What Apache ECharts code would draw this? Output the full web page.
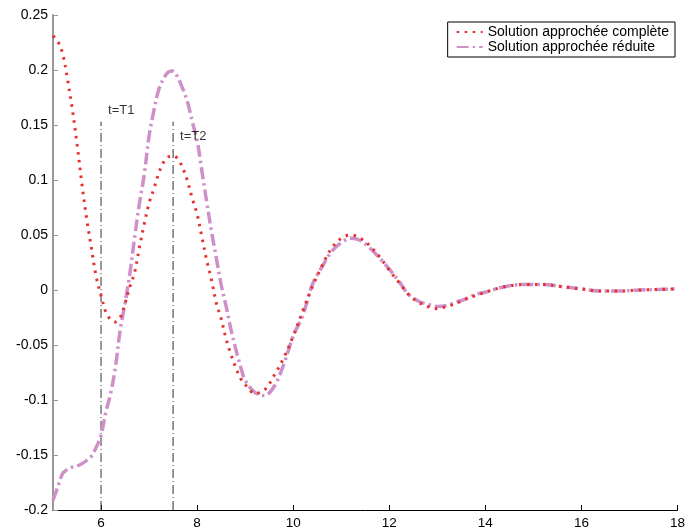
<!DOCTYPE html>
<html>
<head>
<meta charset="utf-8">
<script src="https://cdn.jsdelivr.net/npm/echarts@6/dist/echarts.min.js"></script>
<style>
html,body{margin:0;padding:0;background:#fff;}
#chart{width:688px;height:530px;}
</style>
</head>
<body>
<div id="chart"></div>
<script>
// ---- data ----
var tValues = [5.0,5.1,5.2,5.3,5.4,5.5,5.6,5.7,5.8,5.9,
  6.0,6.1,6.2,6.3,6.4,6.5,6.6,6.7,6.8,6.9,
  7.0,7.1,7.2,7.3,7.4,7.5,7.6,7.7,7.8,7.9,
  8.0,8.1,8.2,8.3,8.4,8.5,8.6,8.7,8.8,8.9,
  9.0,9.2,9.4,9.6,9.8,10.0,10.2,10.4,10.6,10.8,
  11.0,11.2,11.4,11.6,11.8,12.0,12.2,12.4,12.6,12.8,
  13.0,13.2,13.4,13.6,13.8,14.0,14.4,14.8,15.2,15.6,
  16.0,16.4,16.8,17.2,17.6,18.0];

var complete = [0.231,0.226,0.215,0.192,0.165,0.133,0.097,0.065,0.038,0.012,
  -0.005,-0.020,-0.027,-0.029,-0.025,-0.012,0.003,0.016,0.039,0.060,
  0.079,0.092,0.106,0.116,0.121,0.122,0.119,0.111,0.099,0.083,
  0.069,0.048,0.027,0.009,-0.012,-0.026,-0.044,-0.058,-0.070,-0.080,
  -0.086,-0.094,-0.091,-0.078,-0.062,-0.042,-0.019,0.003,0.022,0.038,
  0.047,0.050,0.047,0.040,0.030,0.018,0.007,-0.004,-0.011,-0.015,
  -0.017,-0.015,-0.012,-0.008,-0.005,-0.002,0.003,0.005,0.005,0.003,
  0.001,-0.001,-0.001,0.000,0.0005,0.001];

var reduced = [-0.191,-0.179,-0.167,-0.163,-0.161,-0.160,-0.158,-0.155,-0.151,-0.143,
  -0.132,-0.111,-0.094,-0.070,-0.036,-0.012,0.015,0.048,0.079,0.105,
  0.140,0.163,0.182,0.192,0.198,0.199,0.193,0.183,0.171,0.153,
  0.136,0.108,0.080,0.053,0.029,0.005,-0.014,-0.035,-0.053,-0.069,
  -0.082,-0.093,-0.096,-0.088,-0.068,-0.042,-0.023,0.005,0.021,0.035,
  0.043,0.047,0.045,0.038,0.029,0.019,0.008,-0.004,-0.010,-0.013,
  -0.015,-0.014,-0.011,-0.008,-0.004,-0.002,0.003,0.005,0.005,0.003,
  0.001,-0.001,-0.001,0.000,0.0005,0.001];

var markerTimes = [6, 7.5];
var markerLabels = ['t=T1', 't=T2'];
var markerLineTop = 0.153;
var markerLabelY = [0.1636, 0.140];

var xTicks = [6, 8, 10, 12, 14, 16, 18];
var seriesNames = ['Solution approchée complète', 'Solution approchée réduite'];

// ---- chart ----
var chart = echarts.init(document.getElementById('chart'), null, {renderer: 'canvas'});
var font = 'Arial, "Liberation Sans", Helvetica, sans-serif';

function pairs(xs, ys) { return xs.map(function (x, i) { return [x, ys[i]]; }); }

var series = [
  {
    name: seriesNames[0], type: 'line', data: pairs(tValues, complete),
    smooth: 0.35, symbol: 'none', z: 4,
    lineStyle: {color: '#e63030', width: 3, type: [2.5, 5.5]},
    itemStyle: {color: '#e63030'}
  },
  {
    name: seriesNames[1], type: 'line', data: pairs(tValues, reduced),
    smooth: 0.35, symbol: 'none', z: 3,
    lineStyle: {color: '#cf90c9', width: 3.5, type: [12, 4, 2.5, 4]},
    itemStyle: {color: '#cf90c9'}
  }
];

markerTimes.forEach(function (t, i) {
  series.push({
    name: 'marker' + i, type: 'line', symbol: 'none', z: 2,
    data: [[t, -0.2], [t, markerLineTop]],
    lineStyle: {color: '#333', width: 1, type: [9, 3, 1, 3]}
  });
  series.push({
    name: 'label' + i, type: 'scatter', symbolSize: 0, z: 5,
    data: [[t, markerLabelY[i]]],
    label: {show: true, position: 'right', distance: 7, formatter: markerLabels[i],
      color: '#000', fontSize: 13, fontFamily: font}
  });
});

chart.setOption({
  animation: false,
  backgroundColor: '#fff',
  grid: {left: 53, right: 6, top: 15, bottom: 20, containLabel: false},
  legend: {
    data: seriesNames, orient: 'vertical', right: 13, top: 22,
    backgroundColor: '#fff', borderColor: '#000', borderWidth: 1,
    padding: [3, 6, 3, 8], itemGap: 1, itemWidth: 26, itemHeight: 14,
    itemStyle: {opacity: 0},
    textStyle: {color: '#000', fontSize: 14, fontFamily: font},
    selectedMode: false
  },
  xAxis: {
    type: 'value', min: 5, max: 18,
    axisLine: {show: true, onZero: false, lineStyle: {color: '#000', width: 1}},
    axisTick: {show: true, inside: true, length: 5, customValues: xTicks, lineStyle: {color: '#000'}},
    axisLabel: {customValues: xTicks, color: '#000', fontSize: 13.5, fontFamily: font, margin: 6},
    splitLine: {show: false}
  },
  yAxis: {
    type: 'value', min: -0.2, max: 0.25, interval: 0.05,
    axisLine: {show: true, onZero: false, lineStyle: {color: '#999', width: 2}},
    axisTick: {show: true, inside: true, length: 5, lineStyle: {color: '#999'}},
    axisLabel: {color: '#000', fontSize: 14, fontFamily: font, margin: 5},
    splitLine: {show: false}
  },
  series: series
});
</script>
</body>
</html>
